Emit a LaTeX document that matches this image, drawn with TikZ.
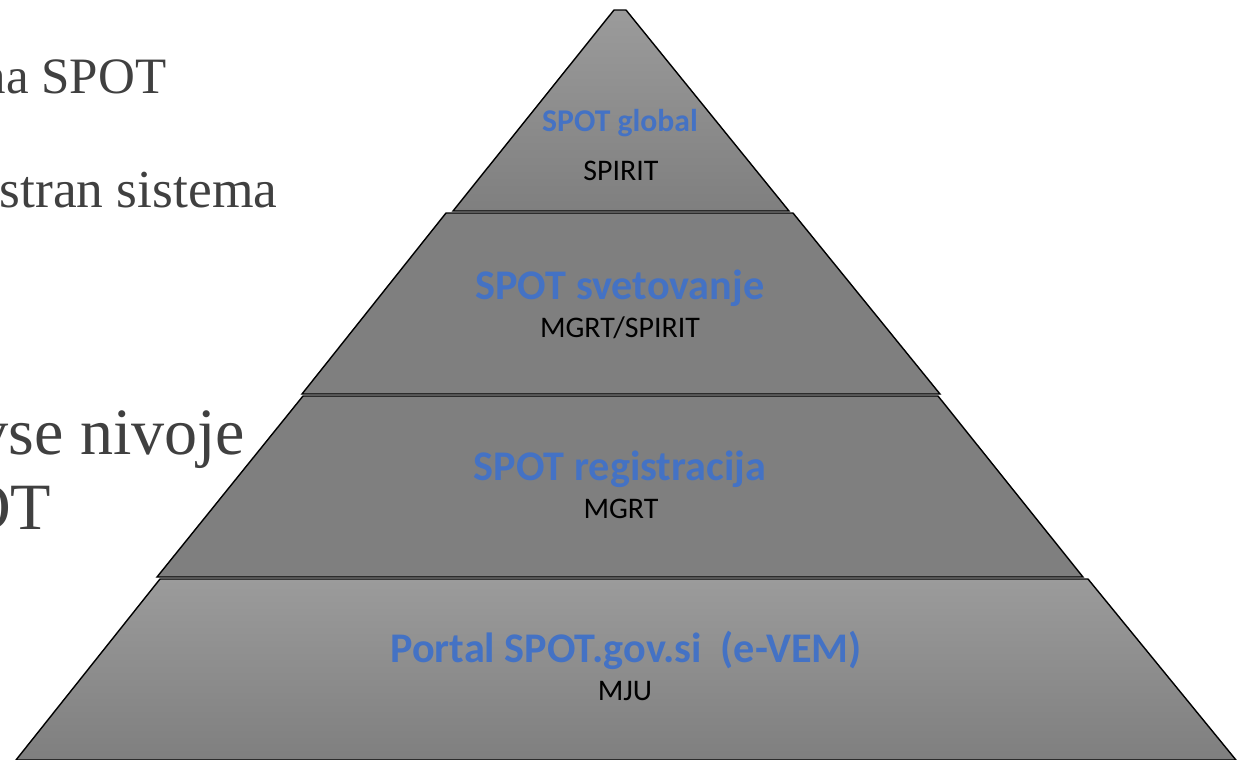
\documentclass[tikz,border=0pt]{standalone}
\usepackage{fontspec}
\setmainfont{Liberation Serif}
\newfontfamily\calibri{Carlito}
\definecolor{spotblue}{HTML}{4472C4}
\definecolor{slidetext}{HTML}{404040}
\definecolor{bandlight}{HTML}{9B9B9B}
\definecolor{banddark}{HTML}{7F7F7F}

\begin{document}
\begin{tikzpicture}[x=0.01cm,y=-0.01cm,
		band/.style={draw=black,line width=0.4pt},
		level/.style={font=\calibri\bfseries\fontsize{12}{14}\selectfont,text=spotblue,inner sep=0pt,anchor=base},
		owner/.style={font=\calibri\fontsize{8.5}{10}\selectfont,text=black,inner sep=0pt,anchor=base},
		bullet/.style={text=slidetext,inner sep=0pt,anchor=base east}]
			\useasboundingbox (0,0) rectangle (1238,760);

			% left text of the slide
			\node[bullet,font=\fontsize{14.5}{17}\selectfont] (line1) at (167,93) {na SPOT};
			\node[bullet,font=\fontsize{15.2}{18}\selectfont] (line2) at (278,207) {stran sistema};
			\node[bullet,font=\fontsize{18.8}{22}\selectfont] (line3) at (246,454) {vse nivoje};
			\node[bullet,font=\fontsize{18.8}{22}\selectfont] (line4) at (52,529) {OT};

			% pyramid
			\draw[band,top color=bandlight,bottom color=banddark] (614,10) -- (626,10) -- (789,211) -- (453,211) -- cycle;
			\draw[band,fill=banddark] (446,213) -- (793,213) -- (940,394) -- (302,394) -- cycle;
			\draw[band,fill=banddark] (303,396) -- (938,396) -- (1083,577) -- (157,577) -- cycle;
			\draw[band,top color=bandlight,bottom color=banddark] (160,579) -- (1088,579) -- (1236,760) -- (16,760) -- cycle;

			\node[level,font=\calibri\bfseries\fontsize{9}{11}\selectfont] (global) at (620,131) {SPOT global};
			\node[owner] (spirit) at (621,180) {SPIRIT};
			\node[level] (svetovanje) at (620,299) {SPOT svetovanje};
			\node[owner] (mgrtspirit) at (620,337) {MGRT/SPIRIT};
			\node[level] (registracija) at (620,480) {SPOT registracija};
			\node[owner] (mgrt) at (621,518) {MGRT};
			\node[level] (portal) at (626,662) {Portal SPOT.gov.si\ \ (e-VEM)};
			\node[owner] (mju) at (625,700) {MJU};
		\end{tikzpicture}
\end{document}
